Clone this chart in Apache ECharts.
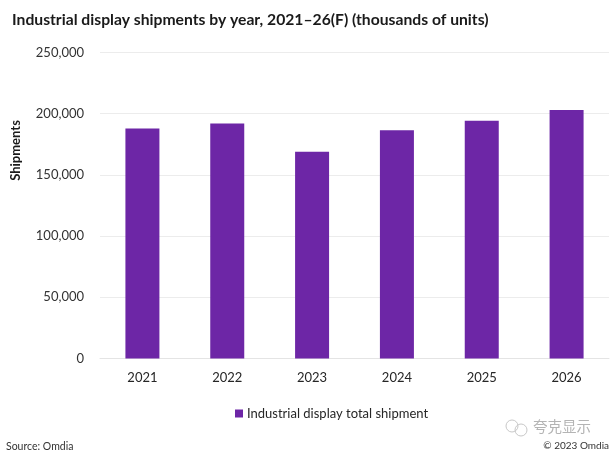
<!DOCTYPE html>
<html><head><meta charset="utf-8">
<style>html,body{margin:0;padding:0;background:#fff}#c{width:614px;height:464px}</style>
<script src="https://cdn.jsdelivr.net/npm/echarts@6/dist/echarts.min.js"></script>
</head><body><div id="c"></div>
<script>
const categories = ['2021','2022','2023','2024','2025','2026'];
const shipments = [188000,192000,169000,186500,194300,203000];
const seriesName = 'Industrial display total shipment';
const titleText = 'Industrial display shipments by year, 2021–26(F) (thousands of units)';
const yAxisName = 'Shipments';
const sourceText = 'Source: Omdia';
const copyrightText = '© 2023 Omdia';
const watermarkText = '夸克显示';
const font = 'Lato, Carlito, "Open Sans", sans-serif';
const chart = echarts.init(document.getElementById('c'), null, {renderer:'canvas'});
chart.setOption({
  animation:false,
  backgroundColor:'#fff',
  title:{text:titleText,left:7,top:7,textStyle:{fontFamily:font,fontSize:15.7,fontWeight:'bold',color:'#1a1a1a'}},
  grid:{left:100,right:5,top:52.5,bottom:105.5,containLabel:false,outerBoundsMode:'none'},
  legend:{data:[seriesName],left:230,top:402,itemWidth:8,itemHeight:8,itemGap:4,icon:'rect',
    textStyle:{fontFamily:font,fontSize:13,color:'#262626',padding:[0,0,0,-1]}},
  xAxis:{type:'category',data:categories,
    axisLine:{lineStyle:{color:'#e4e4e4',width:1}},axisTick:{show:false},
    axisLabel:{fontFamily:font,fontSize:13,color:'#262626',margin:13}},
  yAxis:{type:'value',min:0,max:250000,interval:50000,
    name:yAxisName,nameLocation:'middle',nameGap:78,nameRotate:90,
    nameTextStyle:{fontFamily:font,fontSize:13,fontWeight:'bold',color:'#1a1a1a',padding:[0,0,0,110]},
    axisLine:{show:false},axisTick:{show:false},
    splitLine:{lineStyle:{color:'#ececec',width:1}},
    axisLabel:{fontFamily:font,fontSize:13,color:'#333',margin:16,
      formatter:v=>v.toLocaleString('en-US')}},
  series:[{name:seriesName,type:'bar',data:shipments,barWidth:34,
    itemStyle:{color:'#6d26a6'}}],
  graphic:[
    {type:'text',left:6,top:441,style:{text:sourceText,fontFamily:font,fontSize:10.5,fill:'#333'}},
    {type:'text',right:5,top:441,style:{text:copyrightText,fontFamily:font,fontSize:10,fill:'#333'}},
    {type:'text',left:533,top:419,style:{text:watermarkText,fontFamily:'"Noto Sans CJK SC"',fontSize:14.5,fill:'#b4b4b4'}},
    {type:'circle',shape:{cx:512,cy:426,r:6},style:{fill:'none',stroke:'#c8c8c8',lineWidth:1}},
    {type:'circle',shape:{cx:521,cy:430,r:6},style:{fill:'none',stroke:'#c8c8c8',lineWidth:1}}
  ]
});
</script></body></html>
